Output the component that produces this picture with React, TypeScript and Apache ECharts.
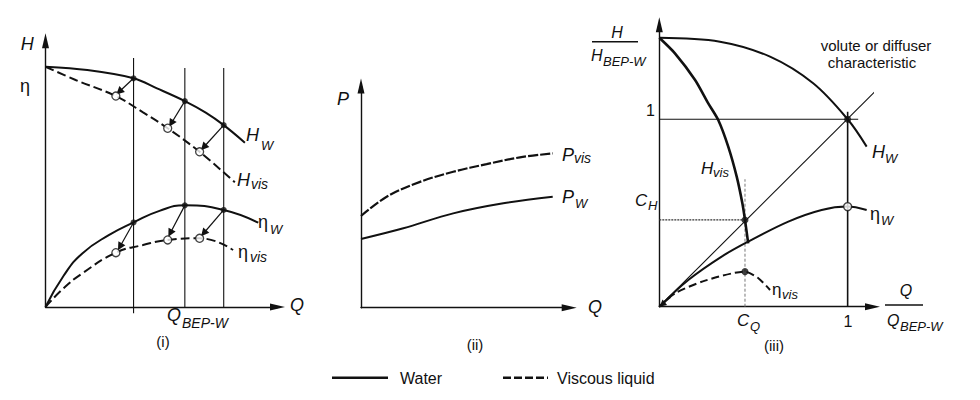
import * as echarts from 'echarts';
import { useEffect, useRef } from 'react';

// ---- panel (i): H and eta against Q (Q in units of Q_BEP-W, H in units of shut-off head)
const p1HwQ = [0, 0.3, 0.632, 0.8, 1.0, 1.15, 1.279, 1.431];
const p1Hw = [1.0, 0.986, 0.952, 0.91, 0.857, 0.809, 0.757, 0.684];
const p1HvisQ = [0, 0.216, 0.505, 0.7, 0.877, 1.106, 1.359];
const p1Hvis = [1.0, 0.945, 0.878, 0.81, 0.744, 0.646, 0.519];
const p1EwQ = [0, 0.13, 0.264, 0.457, 0.632, 0.818, 1.0, 1.279, 1.527];
const p1Ew = [0, 0.13, 0.223, 0.3, 0.352, 0.4, 0.423, 0.404, 0.351];
const p1EvisQ = [0, 0.13, 0.264, 0.505, 0.7, 0.877, 1.106, 1.346];
const p1Evis = [0, 0.078, 0.14, 0.226, 0.258, 0.279, 0.286, 0.237];
// water points, viscous points and the arrow tips between them
const p1WaterPts = [[0.632, 0.952], [1.0, 0.857], [1.279, 0.757], [0.632, 0.352], [1.0, 0.423], [1.279, 0.404]];
const p1VisPts = [[0.505, 0.878], [0.877, 0.744], [1.106, 0.646], [0.505, 0.226], [0.877, 0.279], [1.106, 0.286]];
const p1ArrowTips = [[0.529, 0.896], [0.902, 0.764], [1.135, 0.665], [0.534, 0.251], [0.895, 0.307], [1.135, 0.307]];
const p1Verticals = [[0.632, -0.026, 1.036], [1.0, 0, 0.995], [1.279, 0, 0.995]];

// ---- panel (ii): power
const p2PvisQ = [0, 0.123, 0.283, 0.442, 0.602, 0.762, 0.919];
const p2Pvis = [0.419, 0.507, 0.575, 0.621, 0.656, 0.687, 0.705];
const p2PwQ = [0, 0.203, 0.442, 0.682, 0.919];
const p2Pw = [0.314, 0.363, 0.431, 0.477, 0.507];

// ---- panel (iii): normalised to the water best efficiency point
const p3HwQ = [0, 0.322, 0.588, 0.817, 1.0, 1.101];
const p3Hw = [1.435, 1.414, 1.334, 1.192, 1.0, 0.854];
const p3HvisQ = [0, 0.083, 0.19, 0.26, 0.313, 0.366, 0.411, 0.441, 0.455, 0.472];
const p3Hvis = [1.435, 1.352, 1.21, 1.085, 0.996, 0.854, 0.694, 0.552, 0.463, 0.338];
const p3EwQ = [0, 0.154, 0.331, 0.472, 0.685, 0.862, 1.0, 1.101];
const p3Ew = [0, 0.142, 0.267, 0.347, 0.454, 0.516, 0.534, 0.516];
const p3EvisQ = [0, 0.083, 0.243, 0.455, 0.526, 0.588];
const p3Evis = [0, 0.071, 0.139, 0.187, 0.152, 0.089];
const p3Volute = [[0, 0], [1.189, 1.192]];
const cQ = 0.455;
const cH = 0.463;

const FONT = '"Liberation Sans", Arial, Helvetica, sans-serif';
const BLACK = '#111';

const pairs = (xs: number[], ys: number[]) => xs.map((x, i) => [x, ys[i]]);

function curve(g: number, data: number[][], dashed: number[] | null, width = 2, smooth = 0.35) {
  return {
    type: 'line',
    xAxisIndex: g,
    yAxisIndex: g,
    data,
    smooth,
    symbol: 'none',
    silent: true,
    z: 3,
    itemStyle: { color: BLACK },
    lineStyle: { color: BLACK, width, type: dashed ?? 'solid' },
  };
}

function seg(g: number, data: number[][], width = 1, type: any = 'solid', color = BLACK) {
  return {
    type: 'line',
    xAxisIndex: g,
    yAxisIndex: g,
    data,
    symbol: 'none',
    silent: true,
    clip: false,
    z: 2,
    lineStyle: { color, width, type },
  };
}

function dots(g: number, data: number[][], open: boolean, size = 6) {
  return {
    type: 'scatter',
    xAxisIndex: g,
    yAxisIndex: g,
    data,
    symbolSize: open ? 8 : size,
    silent: true,
    z: 6,
    itemStyle: open
      ? { color: '#fff', borderColor: BLACK, borderWidth: 1.3 }
      : { color: BLACK },
  };
}

function arrows(g: number, from: number[][], to: number[][], size = 8) {
  return {
    type: 'lines',
    coordinateSystem: 'cartesian2d',
    xAxisIndex: g,
    yAxisIndex: g,
    silent: true,
    z: 5,
    symbol: ['none', 'triangle'],
    symbolSize: size,
    lineStyle: { color: BLACK, width: 1.2, opacity: 1, curveness: 0 },
    data: from.map((p, i) => ({ coords: [p, to[i]] })),
  };
}

function axisPair(g: number, xMax: number, yMax: number) {
  const line = {
    show: true,
    onZero: false,
    symbol: ['none', 'triangle'],
    symbolSize: [7, 15],
    lineStyle: { color: BLACK, width: 1.4 },
  };
  const common = {
    type: 'value',
    gridIndex: g,
    min: 0,
    axisLine: line,
    axisTick: { show: false },
    axisLabel: { show: false },
    splitLine: { show: false },
  };
  return {
    x: { ...common, max: xMax },
    y: { ...common, max: yMax },
  };
}

function txt(x: number, y: number, text: string, size: number, italic = true, align = 'left') {
  return {
    type: 'text',
    x,
    y,
    silent: true,
    style: {
      text,
      fill: BLACK,
      font: `${italic ? 'italic ' : ''}${size}px ${FONT}`,
      textAlign: align,
      textVerticalAlign: 'middle',
    },
  };
}

function sym(x: number, y: number, main: string, sub: string, subX: number, subY: number, mainSize = 18, subSize = 13, mainItalic = true) {
  return [txt(x, y, main, mainSize, mainItalic), txt(subX, subY, sub, subSize, true)];
}

function hline(x1: number, x2: number, y: number, width = 1.4, dash?: number[]) {
  return {
    type: 'line',
    silent: true,
    shape: { x1, y1: y, x2, y2: y },
    style: { stroke: BLACK, lineWidth: width, lineDash: dash },
  };
}

export default function App() {
  const ref = useRef<HTMLDivElement>(null);

  useEffect(() => {
    if (!ref.current) return;
    const chart = echarts.init(ref.current, null, { renderer: 'svg' });

    const a1 = axisPair(0, 1.665, 1.108);
    const a2 = axisPair(1, 0.998, 1.013);
    const a3 = axisPair(2, 1.132, 1.504);

    const graphic = [
      // panel (i)
      txt(20.7, 44, 'H', 18),
      txt(20, 86, 'η', 18, false),
      txt(290, 305, 'Q', 18),
      ...sym(246, 135, 'H', 'W', 261, 145),
      ...sym(237, 180, 'H', 'vis', 251, 184, 18, 14),
      ...sym(258, 222, 'η', 'W', 270, 229, 18, 13, false),
      ...sym(238, 252, 'η', 'vis', 250, 257, 18, 14, false),
      ...sym(167, 315, 'Q', 'BEP-W', 182, 323, 18, 14),
      txt(163, 341, '(i)', 15, false, 'center'),
      // panel (ii)
      txt(337, 99, 'P', 18),
      txt(588, 307, 'Q', 18),
      ...sym(562, 155, 'P', 'vis', 574, 158, 18, 14),
      ...sym(562, 197, 'P', 'W', 575, 203),
      txt(475, 344, '(ii)', 15, false, 'center'),
      // panel (iii)
      txt(617, 32, 'H', 16, true, 'center'),
      hline(592, 638, 41.7),
      ...sym(591, 55, 'H', 'BEP-W', 603, 61, 16, 13),
      txt(646, 110, '1', 16, false),
      txt(876, 45, 'volute or diffuser', 15, false, 'center'),
      txt(872, 62, 'characteristic', 15, false, 'center'),
      ...sym(872, 152, 'H', 'W', 885, 158),
      ...sym(701, 168, 'H', 'vis', 713, 172, 17, 13),
      ...sym(635, 200, 'C', 'H', 648, 205, 17, 13),
      ...sym(870, 214, 'η', 'W', 881, 220, 18, 13, false),
      ...sym(772, 289, 'η', 'vis', 782, 294, 17, 13, false),
      ...sym(737, 320, 'C', 'Q', 750, 326, 17, 13),
      txt(848, 321, '1', 16, false, 'center'),
      txt(906, 290, 'Q', 16, true, 'center'),
      hline(885, 923, 305),
      ...sym(887, 320, 'Q', 'BEP-W', 900, 326, 16, 13),
      txt(774, 345, '(iii)', 15, false, 'center'),
      // legend
      hline(332, 388, 377.7, 2.5),
      txt(400, 378, 'Water', 16, false),
      hline(503, 548, 377.7, 2.5, [8, 3]),
      txt(557, 378, 'Viscous liquid', 16, false),
    ];

    chart.setOption({
      animation: false,
      textStyle: { fontFamily: FONT },
      grid: [
        { left: 45.5, top: 40.8, width: 232, height: 266.2 },
        { left: 361, top: 86, width: 208.2, height: 221.7 },
        { left: 659.3, top: 24.8, width: 213.2, height: 281.9 },
      ],
      xAxis: [a1.x, a2.x, a3.x],
      yAxis: [a1.y, a2.y, a3.y],
      graphic,
      series: [
        curve(0, pairs(p1HwQ, p1Hw), null),
        curve(0, pairs(p1HvisQ, p1Hvis), [9, 4]),
        curve(0, pairs(p1EwQ, p1Ew), null, 2, 0.5),
        curve(0, pairs(p1EvisQ, p1Evis), [9, 4], 2, 0.5),
        ...p1Verticals.map(([x, y0, y1]) => seg(0, [[x, y0], [x, y1]], 1.1)),
        arrows(0, p1WaterPts, p1ArrowTips),
        dots(0, p1WaterPts, false),
        dots(0, p1VisPts, true),

        curve(1, pairs(p2PvisQ, p2Pvis), [10, 2], 2.2),
        curve(1, pairs(p2PwQ, p2Pw), null),

        curve(2, pairs(p3HwQ, p3Hw), null),
        curve(2, pairs(p3HvisQ, p3Hvis), null, 2.6, 0.25),
        curve(2, pairs(p3EwQ, p3Ew), null, 2, 0.35),
        curve(2, pairs(p3EvisQ, p3Evis), [8, 4], 2, 0.25),
        arrows(2, [[0.06, 0.05]], [[0.015, 0.012]], 7),
        seg(2, p3Volute, 1.1),
        seg(2, [[0, 1], [1.056, 1]], 1.1),
        seg(2, [[1, 0], [1, 1.04]], 1.6),
        seg(2, [[0, cH], [cQ, cH]], 1.4, [2, 1], '#333'),
        seg(2, [[cQ, 0], [cQ, 0.68]], 1, [3, 2], '#777'),
        dots(2, [[1, 1], [cQ, cH], [cQ, 0.187]], false, 7),
        dots(2, [[1, 0.534]], true),
      ],
    });

    return () => chart.dispose();
  }, []);

  return <div ref={ref} style={{ position: 'absolute', left: 0, top: 0, width: 980, height: 400 }} />;
}
